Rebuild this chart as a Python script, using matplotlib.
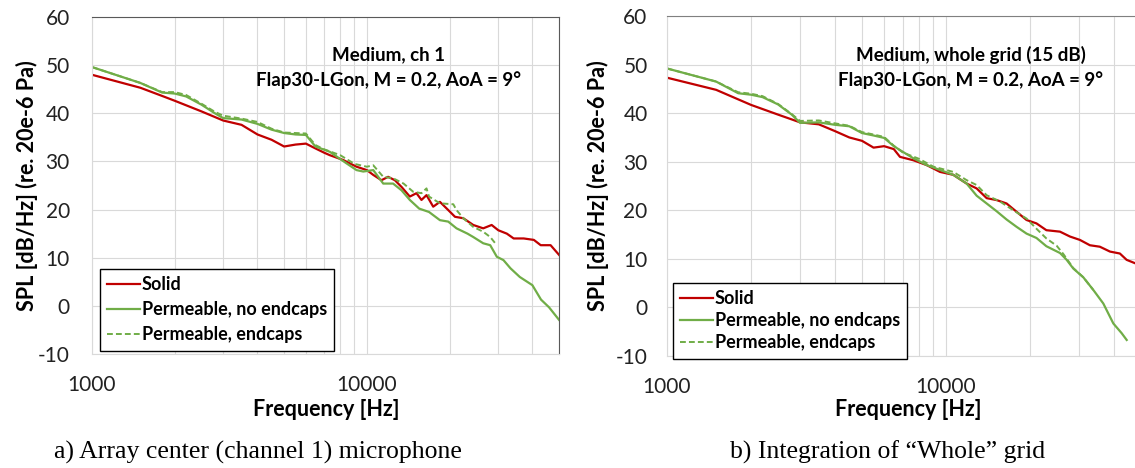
import numpy as np
import matplotlib.pyplot as plt
from matplotlib.ticker import LogLocator, NullFormatter, FixedLocator, FixedFormatter

# data (frequency in Hz, SPL in dB/Hz)
# a) array center (channel 1)
f_a_solid = [1000, 1500, 1800, 2000, 2500, 3000, 3500, 4000, 4500, 5000, 5500, 6000, 6500, 7000,
             7330, 8200, 9170, 10000, 10550, 11300, 11950, 12640, 13370, 14330, 15150, 15800, 16480,
             17430, 18440, 19770, 20920, 22430, 24380, 26500, 28440, 30080, 32300, 34200, 37200,
             40500, 42900, 46600, 50000]
spl_a_solid = [48.0, 45.3, 43.6, 42.6, 40.4, 38.5, 37.6, 35.6, 34.5, 33.1, 33.5, 33.7, 32.7, 31.8,
               31.3, 30.3, 28.9, 28.2, 27.2, 26.1, 26.8, 26.1, 24.7, 22.7, 23.4, 22.0, 23.0,
               20.6, 21.6, 19.9, 18.5, 18.2, 16.8, 16.1, 16.8, 15.7, 15.0, 14.0, 14.0,
               13.7, 12.6, 12.6, 10.6]

f_a_perm = [1000, 1500, 1800, 2000, 2200, 2500, 2800, 3000, 3500, 4000, 4500, 5000, 5500, 6000,
            6500, 7330, 8430, 9170, 9700, 10550, 11470, 12460, 13370, 14330, 15500, 16830, 18440,
            19770, 21190, 23230, 24380, 26500, 28100, 29700, 31400, 33300, 36000, 40000, 43000,
            46000, 50000]
spl_a_perm = [49.6, 46.3, 44.3, 44.1, 43.5, 41.8, 40.0, 39.0, 38.7, 37.8, 36.6, 35.9, 35.6, 35.5,
              33.1, 32.0, 29.6, 28.2, 27.9, 28.2, 25.4, 25.4, 24.0, 22.0, 20.2, 19.5, 17.8,
              17.5, 16.1, 15.0, 14.3, 13.0, 12.6, 10.2, 9.5, 7.8, 6.0, 4.3, 1.3,
              -0.3, -2.9]

f_a_endcap = [1000, 1500, 1800, 2000, 2200, 2500, 2800, 3000, 3500, 4000, 4500, 5000, 5500, 6000,
              6500, 7000, 8000, 9000, 10000, 10550, 11470, 12460, 13600, 14740, 15800, 16480, 16830,
              18440, 20630, 21190, 22430, 24380, 26500, 28100, 29700]
spl_a_endcap = [49.6, 46.3, 44.4, 44.4, 43.8, 42.0, 40.3, 39.5, 38.9, 38.2, 36.8, 36.0, 35.9, 35.8,
                33.4, 32.5, 31.3, 29.5, 28.9, 29.2, 26.8, 26.5, 25.4, 23.7, 23.4, 24.4, 22.7,
                21.3, 21.1, 19.9, 18.2, 16.4, 15.4, 14.3, 12.6]

# b) integration of whole grid
f_b_solid = [1000, 1500, 2000, 2500, 3000, 3500, 4000, 4500, 5000, 5500, 6000, 6500, 6840, 7640,
             8530, 9520, 10620, 11860, 12880, 13990, 15190, 16490, 17900, 19440, 21100, 22900,
             25620, 27810, 30200, 32800, 35600, 38700, 42000, 44400, 47600, 50000]
spl_b_solid = [47.3, 44.8, 41.7, 39.7, 38.1, 37.7, 36.3, 35.0, 34.3, 32.9, 33.2, 32.6, 31.0, 30.3,
               29.3, 27.9, 27.3, 25.5, 24.5, 22.5, 22.1, 21.4, 19.7, 18.0, 17.3, 15.9,
               15.6, 14.6, 13.9, 12.8, 12.5, 11.5, 11.1, 9.8, 9.1, 8.8]

f_b_perm = [1000, 1500, 1800, 2000, 2200, 2500, 2800, 3000, 3500, 4000, 4500, 5000, 5500, 6000,
            6500, 6840, 7640, 8530, 9520, 10620, 11860, 12880, 13990, 15190, 16490, 17900, 19440,
            21100, 22900, 25630, 27070, 28600, 31060, 33730, 36640, 39790, 42620, 44430]
spl_b_perm = [49.2, 46.5, 44.1, 43.8, 43.3, 41.8, 39.7, 38.0, 38.1, 37.6, 37.3, 35.9, 35.4, 34.9,
              33.2, 32.4, 30.7, 29.3, 28.3, 27.3, 25.5, 23.0, 21.4, 19.8, 18.1, 16.6, 15.2,
              14.3, 12.6, 11.2, 9.8, 8.0, 6.2, 3.6, 0.8, -3.3, -5.3, -6.7]

f_b_endcap = [1000, 1500, 1800, 2000, 2200, 2500, 2800, 3000, 3500, 4000, 4500, 5000, 5500, 6000,
              6500, 7000, 8000, 9000, 10000, 10620, 11860, 12880, 13990, 15620, 17430, 19440, 21100,
              22900, 24930, 26340, 28600, 31060, 33730]
spl_b_endcap = [49.2, 46.5, 44.3, 44.0, 43.5, 41.9, 39.8, 38.4, 38.5, 37.9, 37.4, 36.1, 35.6, 35.1,
                33.3, 31.9, 30.6, 29.0, 28.3, 27.9, 26.2, 25.2, 23.1, 21.8, 20.0, 18.3, 16.2,
                14.2, 12.7, 11.0, 8.1, 6.2, 3.6]

labels = ['Solid', 'Permeable, no endcaps', 'Permeable, endcaps']
captions = ['a) Array center (channel 1) microphone', 'b) Integration of \u201cWhole\u201d grid']
titles = [['Medium, ch 1', 'Flap30-LGon, M = 0.2, AoA = 9\u00b0'],
          ['Medium, whole grid (15 dB)', 'Flap30-LGon, M = 0.2, AoA = 9\u00b0']]

red = '#C00000'
green = '#70AD47'
W, H = 1135, 468

plt.rcParams['font.family'] = ['Lato', 'DejaVu Sans']
plt.rcParams['axes.unicode_minus'] = False
fig = plt.figure(figsize=(W / 100, H / 100), dpi=100)

# axes rectangles in pixels: left, top, right, bottom
rects = [(92, 17, 559, 354), (667, 16, 1141, 356)]
data = [
    (f_a_solid, spl_a_solid, f_a_perm, spl_a_perm, f_a_endcap, spl_a_endcap),
    (f_b_solid, spl_b_solid, f_b_perm, spl_b_perm, f_b_endcap, spl_b_endcap),
]
ylabel_x = [27, 598]
freq_x = [326, 908]
cap_x = [258, 888]
title_x = [389, 971]
legend_box = [(100, 269), (673, 283)]
legend_gap = [0.45, 0.28]
top_spine = ['#595959', '#808080']

for i in range(2):
    l, t, r, b = rects[i]
    ax = fig.add_axes([l / W, 1 - b / H, (r - l) / W, (b - t) / H])
    fs, ss, fp, sp, fe, se = data[i]
    ax.plot(fs, ss, color=red, lw=1.6, label=labels[0])
    ax.plot(fp, sp, color=green, lw=1.6, label=labels[1])
    ax.plot(fe, se, color=green, lw=1.4, ls=(0, (3, 1.6)), label=labels[2])

    ax.set_xscale('log')
    ax.set_xlim(1000, 50000)
    ax.set_ylim(-10, 60)
    ax.yaxis.set_major_locator(FixedLocator(np.arange(-10, 61, 10)))
    ax.xaxis.set_major_locator(FixedLocator([1000, 10000]))
    ax.xaxis.set_major_formatter(FixedFormatter(['1000', '10000']))
    ax.xaxis.set_minor_locator(LogLocator(base=10, subs=np.arange(2, 10)))
    ax.xaxis.set_minor_formatter(NullFormatter())
    ax.grid(True, which='both', axis='x', color='#d9d9d9', lw=0.8)
    ax.grid(True, which='major', axis='y', color='#d9d9d9', lw=0.8)
    ax.set_axisbelow(True)
    ax.tick_params(axis='both', which='both', length=0, labelsize=15, colors='#222222')
    ax.tick_params(axis='y', pad=16 if i == 0 else 14)
    ax.tick_params(axis='x', pad=15)
    ax.spines['left'].set_color('#d9d9d9')
    ax.spines['bottom'].set_color('#d9d9d9')
    ax.spines['top'].set_color(top_spine[i])
    ax.spines['right'].set_color('#595959')

    lx, ly = legend_box[i]
    ax.legend(loc='upper left', bbox_to_anchor=(lx / W, 1 - ly / H), bbox_transform=fig.transFigure,
              prop={'weight': 'bold', 'size': 13}, frameon=True, fancybox=False,
              edgecolor='black', framealpha=1, handlelength=1.8, handletextpad=0.1,
              labelspacing=legend_gap[i], borderpad=0.4, borderaxespad=0)

    fig.text(title_x[i] / W, 1 - 55 / H, titles[i][0], ha='center', va='center',
             fontsize=13.5, fontweight='bold')
    fig.text(title_x[i] / W, 1 - 80 / H, titles[i][1], ha='center', va='center',
             fontsize=13.5, fontweight='bold')
    fig.text(ylabel_x[i] / W, 1 - 186 / H, 'SPL [dB/Hz] (re. 20e-6 Pa)', rotation=90,
             ha='center', va='center', fontsize=15.5, fontweight='bold')
    fig.text(freq_x[i] / W, 1 - 410 / H, 'Frequency [Hz]', ha='center', va='center',
             fontsize=15.5, fontweight='bold')
    fig.text(cap_x[i] / W, 1 - 452 / H, captions[i], ha='center', va='center',
             fontsize=18.5, family=['Liberation Serif', 'DejaVu Serif'])

fig.savefig('out.png', dpi=100)
